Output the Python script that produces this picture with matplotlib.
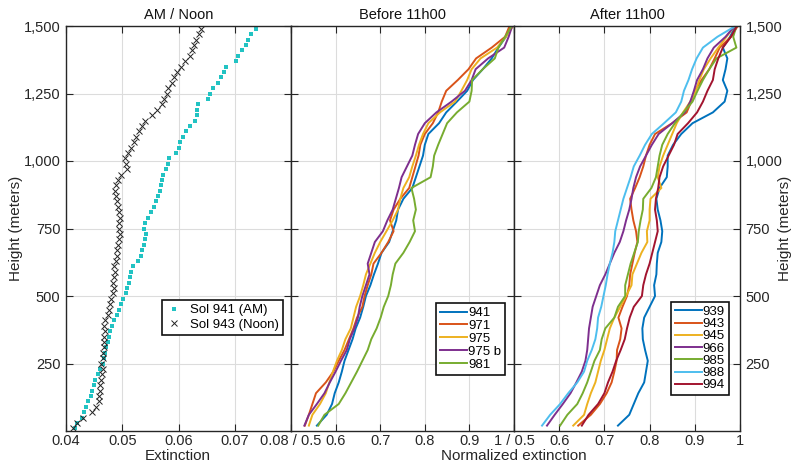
import matplotlib
matplotlib.use('Agg')
import matplotlib.pyplot as plt
from matplotlib.ticker import FuncFormatter

plt.rcParams['font.family'] = ['Liberation Sans', 'DejaVu Sans']
plt.rcParams['font.size'] = 10.5

# --- panel 1: absolute extinction profiles -------------------------------
h_pts = list(range(10, 1500, 20))
sol941_am = [0.0416, 0.0420, 0.0428, 0.0432, 0.0436, 0.0440, 0.0444, 0.0447,
             0.0450, 0.0452, 0.0456, 0.0461, 0.0465, 0.0467, 0.0469, 0.0471,
             0.0474, 0.0476, 0.0478, 0.0482, 0.0485, 0.0490, 0.0494, 0.0498,
             0.0502, 0.0506, 0.0509, 0.0512, 0.0514, 0.0516, 0.0519, 0.0528,
             0.0533, 0.0535, 0.0538, 0.0541, 0.0543, 0.0538, 0.0541, 0.0546,
             0.0551, 0.0556, 0.0560, 0.0564, 0.0567, 0.0569, 0.0571, 0.0572,
             0.0578, 0.0582, 0.0583, 0.0596, 0.0600, 0.0603, 0.0608, 0.0614,
             0.0620, 0.0630, 0.0632, 0.0633, 0.0634, 0.0652, 0.0656, 0.0662,
             0.0670, 0.0676, 0.0680, 0.0684, 0.0702, 0.0706, 0.0712, 0.0720,
             0.0724, 0.0728, 0.0738]
sol943_noon = [0.0412, 0.0420, 0.0430, 0.0446, 0.0454, 0.0458, 0.0458, 0.0460,
               0.0461, 0.0463, 0.0464, 0.0465, 0.0463, 0.0466, 0.0466, 0.0468,
               0.0468, 0.0467, 0.0469, 0.0468, 0.0470, 0.0474, 0.0476, 0.0478,
               0.0480, 0.0483, 0.0485, 0.0484, 0.0486, 0.0487, 0.0485, 0.0488,
               0.0490, 0.0491, 0.0492, 0.0494, 0.0496, 0.0495, 0.0494, 0.0496,
               0.0494, 0.0492, 0.0490, 0.0488, 0.0487, 0.0489, 0.0493, 0.0498,
               0.0508, 0.0507, 0.0504, 0.0510, 0.0516, 0.0520, 0.0524, 0.0530,
               0.0535, 0.0540, 0.0552, 0.0562, 0.0570, 0.0575, 0.0580, 0.0582,
               0.0588, 0.0592, 0.0598, 0.0604, 0.0612, 0.0620, 0.0624, 0.0628,
               0.0631, 0.0636, 0.0640]

# --- normalized profiles --------------------------------------------------
h_line = [20, 60, 100, 140, 180, 220, 260, 300, 340, 380, 420, 460, 500,
          540, 580, 620, 660, 700, 740, 780, 820, 860, 900, 940, 980, 1020,
          1060, 1100, 1140, 1180, 1220, 1260, 1300, 1340, 1380, 1420, 1460,
          1500]

before_labels = ['941', '971', '975', '975 b', '981']
before = [
    [0.558, 0.580, 0.592, 0.598, 0.607, 0.614, 0.620, 0.629, 0.638, 0.645,
     0.655, 0.662, 0.668, 0.678, 0.686, 0.695, 0.703, 0.720, 0.728, 0.736,
     0.740, 0.752, 0.772, 0.780, 0.788, 0.796, 0.800, 0.808, 0.832, 0.848,
     0.872, 0.895, 0.908, 0.930, 0.950, 0.965, 0.982, 0.992],
    [0.531, 0.540, 0.548, 0.556, 0.578, 0.595, 0.607, 0.620, 0.630, 0.640,
     0.648, 0.660, 0.665, 0.672, 0.680, 0.685, 0.703, 0.718, 0.730, 0.722,
     0.730, 0.745, 0.765, 0.772, 0.779, 0.786, 0.790, 0.800, 0.818, 0.830,
     0.838, 0.848, 0.874, 0.898, 0.915, 0.950, 0.980, 0.990],
    [0.540, 0.548, 0.565, 0.578, 0.586, 0.594, 0.603, 0.614, 0.622, 0.634,
     0.640, 0.646, 0.655, 0.662, 0.668, 0.678, 0.688, 0.700, 0.714, 0.728,
     0.740, 0.745, 0.752, 0.765, 0.772, 0.780, 0.787, 0.796, 0.808, 0.834,
     0.868, 0.882, 0.895, 0.905, 0.925, 0.962, 0.982, 0.998],
    [0.530, 0.540, 0.558, 0.575, 0.587, 0.600, 0.612, 0.625, 0.632, 0.642,
     0.650, 0.654, 0.660, 0.668, 0.676, 0.672, 0.680, 0.688, 0.706, 0.716,
     0.728, 0.735, 0.742, 0.748, 0.760, 0.772, 0.778, 0.785, 0.800, 0.826,
     0.860, 0.890, 0.905, 0.914, 0.942, 0.978, 0.988, 0.996],
    [0.561, 0.575, 0.607, 0.622, 0.635, 0.648, 0.660, 0.672, 0.680, 0.692,
     0.701, 0.708, 0.718, 0.724, 0.728, 0.734, 0.752, 0.766, 0.778, 0.774,
     0.780, 0.776, 0.770, 0.813, 0.818, 0.821, 0.830, 0.840, 0.850, 0.872,
     0.900, 0.905, 0.906, 0.930, 0.957, 0.965, 0.980, 0.995],
]

after_labels = ['939', '943', '945', '966', '985', '988', '994']
after = [
    [0.730, 0.755, 0.765, 0.775, 0.788, 0.792, 0.796, 0.790, 0.785, 0.784,
     0.788, 0.800, 0.812, 0.810, 0.815, 0.816, 0.818, 0.826, 0.828, 0.824,
     0.818, 0.815, 0.822, 0.838, 0.840, 0.840, 0.852, 0.870, 0.895, 0.940,
     0.966, 0.972, 0.962, 0.968, 0.972, 0.962, 0.978, 0.990],
    [0.642, 0.670, 0.690, 0.705, 0.716, 0.722, 0.727, 0.728, 0.735, 0.738,
     0.731, 0.740, 0.750, 0.755, 0.757, 0.762, 0.767, 0.773, 0.770, 0.764,
     0.760, 0.757, 0.768, 0.778, 0.786, 0.792, 0.800, 0.812, 0.850, 0.882,
     0.892, 0.900, 0.915, 0.932, 0.944, 0.955, 0.980, 0.995],
    [0.631, 0.655, 0.662, 0.670, 0.680, 0.686, 0.692, 0.700, 0.706, 0.712,
     0.722, 0.735, 0.748, 0.760, 0.762, 0.772, 0.782, 0.795, 0.794, 0.800,
     0.800, 0.802, 0.826, 0.818, 0.822, 0.830, 0.840, 0.850, 0.860, 0.874,
     0.890, 0.902, 0.910, 0.920, 0.935, 0.952, 0.970, 0.988],
    [0.573, 0.590, 0.608, 0.625, 0.638, 0.650, 0.658, 0.662, 0.664, 0.666,
     0.670, 0.674, 0.682, 0.690, 0.702, 0.712, 0.722, 0.734, 0.742, 0.748,
     0.755, 0.760, 0.764, 0.770, 0.779, 0.792, 0.805, 0.820, 0.850, 0.878,
     0.890, 0.898, 0.905, 0.918, 0.928, 0.942, 0.968, 0.988],
    [0.602, 0.618, 0.640, 0.652, 0.662, 0.670, 0.678, 0.690, 0.694, 0.702,
     0.722, 0.730, 0.746, 0.746, 0.752, 0.758, 0.766, 0.774, 0.776, 0.780,
     0.785, 0.786, 0.804, 0.814, 0.818, 0.822, 0.828, 0.840, 0.856, 0.875,
     0.895, 0.906, 0.918, 0.932, 0.948, 0.992, 0.985, 0.992],
    [0.562, 0.580, 0.602, 0.620, 0.640, 0.655, 0.662, 0.672, 0.680, 0.684,
     0.686, 0.693, 0.698, 0.703, 0.707, 0.712, 0.718, 0.722, 0.724, 0.730,
     0.736, 0.742, 0.750, 0.758, 0.765, 0.778, 0.790, 0.805, 0.832, 0.858,
     0.870, 0.876, 0.886, 0.894, 0.904, 0.918, 0.950, 0.990],
    [0.650, 0.665, 0.686, 0.700, 0.708, 0.718, 0.726, 0.736, 0.745, 0.750,
     0.756, 0.765, 0.783, 0.786, 0.792, 0.800, 0.806, 0.812, 0.818, 0.816,
     0.812, 0.814, 0.819, 0.822, 0.830, 0.842, 0.854, 0.862, 0.885, 0.905,
     0.918, 0.928, 0.940, 0.944, 0.952, 0.962, 0.980, 0.993],
]

MCOLORS = ['#0072BD', '#D95319', '#EDB120', '#7E2F8E', '#77AC30',
           '#4DBEEE', '#A2142F']
AXC = '#262626'
yfmt = FuncFormatter(lambda v, p: '{:,.0f}'.format(v))


def style_axes(ax, xlim, xticks, xlabels, title):
    ax.set_xlim(*xlim)
    ax.set_ylim(0, 1500)
    ax.set_xticks(xticks)
    ax.set_xticklabels(xlabels)
    ax.set_yticks([250, 500, 750, 1000, 1250, 1500])
    ax.yaxis.set_major_formatter(yfmt)
    ax.grid(True, color='#dcdcdc', lw=0.8)
    ax.set_axisbelow(True)
    ax.tick_params(direction='in', top=True, right=True, length=5,
                   width=0.8, colors=AXC, labelsize=10.5, pad=4)
    ax.tick_params(axis='x', pad=2.5)
    for s in ax.spines.values():
        s.set_color(AXC)
        s.set_linewidth(1.0)
    ax.set_title(title, fontsize=10.5, color='#111111', pad=5)


def legend_box(ax, anchor, **kw):
    leg = ax.legend(loc='upper right', bbox_to_anchor=anchor,
                    fancybox=False, framealpha=1, edgecolor='#111111',
                    fontsize=9.5, borderpad=0.3, borderaxespad=0, **kw)
    leg.get_frame().set_linewidth(1.2)
    return leg


fig = plt.figure(figsize=(7.93, 4.66), dpi=100)
bot, hgt = 35 / 466, 405 / 466
ax1 = fig.add_axes([66 / 793, bot, 225 / 793, hgt])
ax2 = fig.add_axes([291 / 793, bot, 223 / 793, hgt])
ax3 = fig.add_axes([514 / 793, bot, 226 / 793, hgt])

# panel 1
ax1.plot(sol941_am, h_pts, ls='none', marker='s', ms=2.2, mew=0,
         color='#22c3c3', label='Sol 941 (AM)')
ax1.plot(sol943_noon, h_pts, ls='none', marker='x', ms=4.2, mew=0.7,
         color='#222222', label='Sol 943 (Noon)')
style_axes(ax1, (0.04, 0.08), [0.04, 0.05, 0.06, 0.07, 0.08],
           ['0.04', '0.05', '0.06', '0.07', '0.08 / 0.5'], 'AM / Noon')
legend_box(ax1, (0.964, 0.323), markerscale=1.1, handlelength=1.2,
           handletextpad=0.6, labelspacing=0.15)

# panel 2
for i, (lab, vals) in enumerate(zip(before_labels, before)):
    ax2.plot(vals, h_line, color=MCOLORS[i], lw=1.4, label=lab)
style_axes(ax2, (0.5, 1.0), [0.5, 0.6, 0.7, 0.8, 0.9, 1.0],
           ['', '0.6', '0.7', '0.8', '0.9', '1 / 0.5'], 'Before 11h00')
ax2.tick_params(labelleft=False)
legend_box(ax2, (0.96, 0.316), handlelength=2.0, handletextpad=0.1,
           labelspacing=0.05)

# panel 3
for i, (lab, vals) in enumerate(zip(after_labels, after)):
    ax3.plot(vals, h_line, color=MCOLORS[i], lw=1.4, label=lab)
style_axes(ax3, (0.5, 1.0), [0.5, 0.6, 0.7, 0.8, 0.9, 1.0],
           ['', '0.6', '0.7', '0.8', '0.9', '1'], 'After 11h00')
ax3.tick_params(labelleft=False, labelright=True)
legend_box(ax3, (0.951, 0.319), handlelength=2.0, handletextpad=0.1,
           labelspacing=0.0)

# axis labels placed like the original layout
fig.text(16 / 793, 1 - 228 / 466, 'Height (meters)', rotation=90,
         ha='center', va='center', fontsize=11, color=AXC)
fig.text(785 / 793, 1 - 228 / 466, 'Height (meters)', rotation=90,
         ha='center', va='center', fontsize=11, color=AXC)
fig.text(178 / 793, 1 - 456 / 466, 'Extinction', ha='center',
         va='center', fontsize=11, color=AXC)
fig.text(514 / 793, 1 - 456 / 466, 'Normalized extinction', ha='center',
         va='center', fontsize=11, color=AXC)

plt.savefig('out.png', dpi=100)
